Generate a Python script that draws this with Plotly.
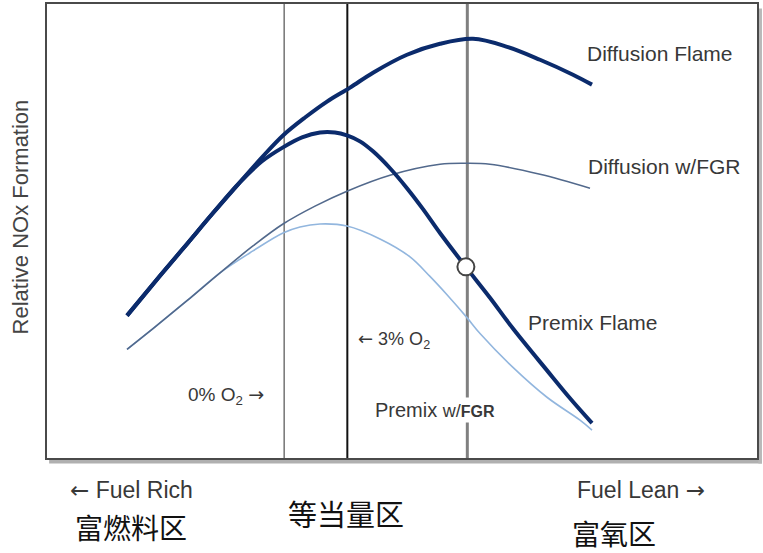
import plotly.graph_objects as go

# x: relative excess air (arbitrary units), y: relative NOx formation (arbitrary units)
diff_x = [11.27, 15.92, 19.72, 23.38, 27.18, 30.28, 33.24, 36.34, 39.44, 42.68, 45.92, 50.70, 55.35,
          60.00, 64.79, 69.44, 74.08, 76.76]
diff_y = [31.36, 40.13, 47.15, 53.95, 60.75, 66.23, 71.05, 75.00, 78.51, 81.58, 84.87, 88.82, 91.23,
          92.32, 90.57, 87.72, 84.43, 82.24]

prem_x = [11.27, 15.92, 19.72, 23.38, 27.18, 30.28, 33.24, 35.92, 38.45, 40.56, 42.25, 44.08, 45.92,
          48.31, 50.70, 52.96, 55.35, 58.87, 62.39, 65.63, 70.42, 73.66, 76.76]
prem_y = [31.36, 40.13, 47.15, 53.95, 60.75, 65.35, 68.42, 70.61, 71.71, 71.71, 71.05, 69.74, 67.54,
          63.82, 59.43, 54.82, 49.56, 42.32, 35.31, 28.51, 19.30, 13.16, 7.68]

dfgr_x = [11.27, 14.93, 19.72, 24.37, 29.01, 33.24, 37.75, 42.25, 48.31, 55.35, 59.15, 62.39, 69.44, 76.48]
dfgr_y = [23.90, 28.51, 34.65, 40.79, 46.71, 51.54, 55.48, 58.77, 62.28, 64.69, 64.91, 64.69, 62.50, 59.43]

pfgr_x = [11.27, 14.93, 19.72, 24.37, 29.01, 33.24, 35.63, 38.45, 42.25, 46.90, 51.13, 53.94, 56.34,
          59.15, 60.99, 65.63, 70.42, 75.07, 76.76]
pfgr_y = [23.90, 28.51, 34.65, 40.79, 45.61, 49.56, 50.88, 51.54, 51.10, 48.25, 44.30, 40.00, 35.96,
          30.92, 27.41, 19.96, 13.38, 8.33, 6.14]

vlines_x = [33.4, 42.3, 59.2]
marker_x = [59.0]
marker_y = [42.1]

NAVY = "#0b2b6c"
fig = go.Figure()

vstyles = [dict(color="#505050", width=1.2), dict(color="#111111", width=2), dict(color="#808080", width=3)]
for xv, st in zip(vlines_x, vstyles):
    fig.add_trace(go.Scatter(x=[xv, xv], y=[0, 100], mode="lines", line=st, hoverinfo="skip"))

fig.add_trace(go.Scatter(x=pfgr_x, y=pfgr_y, mode="lines", line=dict(color="#92b6de", width=1.6, shape="spline")))
fig.add_trace(go.Scatter(x=dfgr_x, y=dfgr_y, mode="lines", line=dict(color="#52698c", width=1.6, shape="spline")))
fig.add_trace(go.Scatter(x=diff_x, y=diff_y, mode="lines", line=dict(color=NAVY, width=4, shape="spline")))
fig.add_trace(go.Scatter(x=prem_x, y=prem_y, mode="lines", line=dict(color=NAVY, width=4, shape="spline")))
fig.add_trace(go.Scatter(x=marker_x, y=marker_y, mode="markers",
                         marker=dict(size=17, color="white", line=dict(color="#444444", width=2))))

EN = "Liberation Sans, Arial, sans-serif"
CJK = "Noto Sans CJK SC, sans-serif"
TXT = "#383838"
AR_L = "<span style='font-family:DejaVu Sans'>←</span>"
AR_R = "<span style='font-family:DejaVu Sans'>→</span>"

def ann(text, x, y, xanchor="left", size=21, font=EN, bg=None, color=TXT, ref="x"):
    d = dict(text=text, x=x, y=y, xref=ref, yref=("y" if ref == "x" else "paper"),
             xanchor=xanchor, yanchor="middle",
             showarrow=False, font=dict(family=font, size=size, color=color))
    if bg:
        d["bgcolor"] = bg
    fig.add_annotation(**d)

ann("Diffusion Flame", 75.8, 89.0)
ann("Diffusion w/FGR", 75.9, 64.3)
ann("Premix Flame", 67.4, 29.8)
ann("Premix <span style='font-size:18px'>w/</span><b style='font-size:16px'>FGR</b>", 45.9, 10.5, size=20, bg="white")
ann(AR_L + " 3% O<sub>2</sub>", 43.5, 25.9, size=18)
ann("0% O<sub>2</sub> " + AR_R, 30.9, 13.8, xanchor="right", size=19)

ann(AR_L + " Fuel Rich", 0.030, -0.070, size=23, ref="paper")
ann("Fuel Lean " + AR_R, 0.743, -0.070, size=23, ref="paper")
ann("富燃料区", 0.036, -0.152, size=28, font=CJK, color="#111111", ref="paper")
ann("等当量区", 0.336, -0.121, size=29, font=CJK, color="#111111", ref="paper")
ann("富氧区", 0.736, -0.166, size=28, font=CJK, color="#111111", ref="paper")

fig.add_annotation(text="Relative NOx Formation", xref="paper", yref="paper", x=-0.038, y=0.53,
                   textangle=-90, showarrow=False, xanchor="center", yanchor="middle",
                   font=dict(family=EN, size=22, color="#444444"))

# box shadow strips (bottom and right)
fig.add_shape(type="rect", xref="paper", yref="paper", x0=0.003, x1=1.007, y0=-0.012, y1=-0.002,
              fillcolor="#b0b0b0", line=dict(width=0), layer="below")
fig.add_shape(type="rect", xref="paper", yref="paper", x0=1.002, x1=1.007, y0=-0.012, y1=0.99,
              fillcolor="#b8b8b8", line=dict(width=0), layer="below")

fig.update_xaxes(range=[0, 100], showticklabels=False, ticks="", showgrid=False, zeroline=False,
                 showline=True, mirror=True, linecolor="#4a4a4a", linewidth=2)
fig.update_yaxes(range=[0, 100], showticklabels=False, ticks="", showgrid=False, zeroline=False,
                 showline=True, mirror=True, linecolor="#4a4a4a", linewidth=2)

fig.update_layout(width=763, height=553, margin=dict(l=47, r=6, t=2, b=95),
                  paper_bgcolor="white", plot_bgcolor="white", showlegend=False)

fig.write_html("out.html", config={"displayModeBar": False},
               post_script="document.body.style.margin='0';")
